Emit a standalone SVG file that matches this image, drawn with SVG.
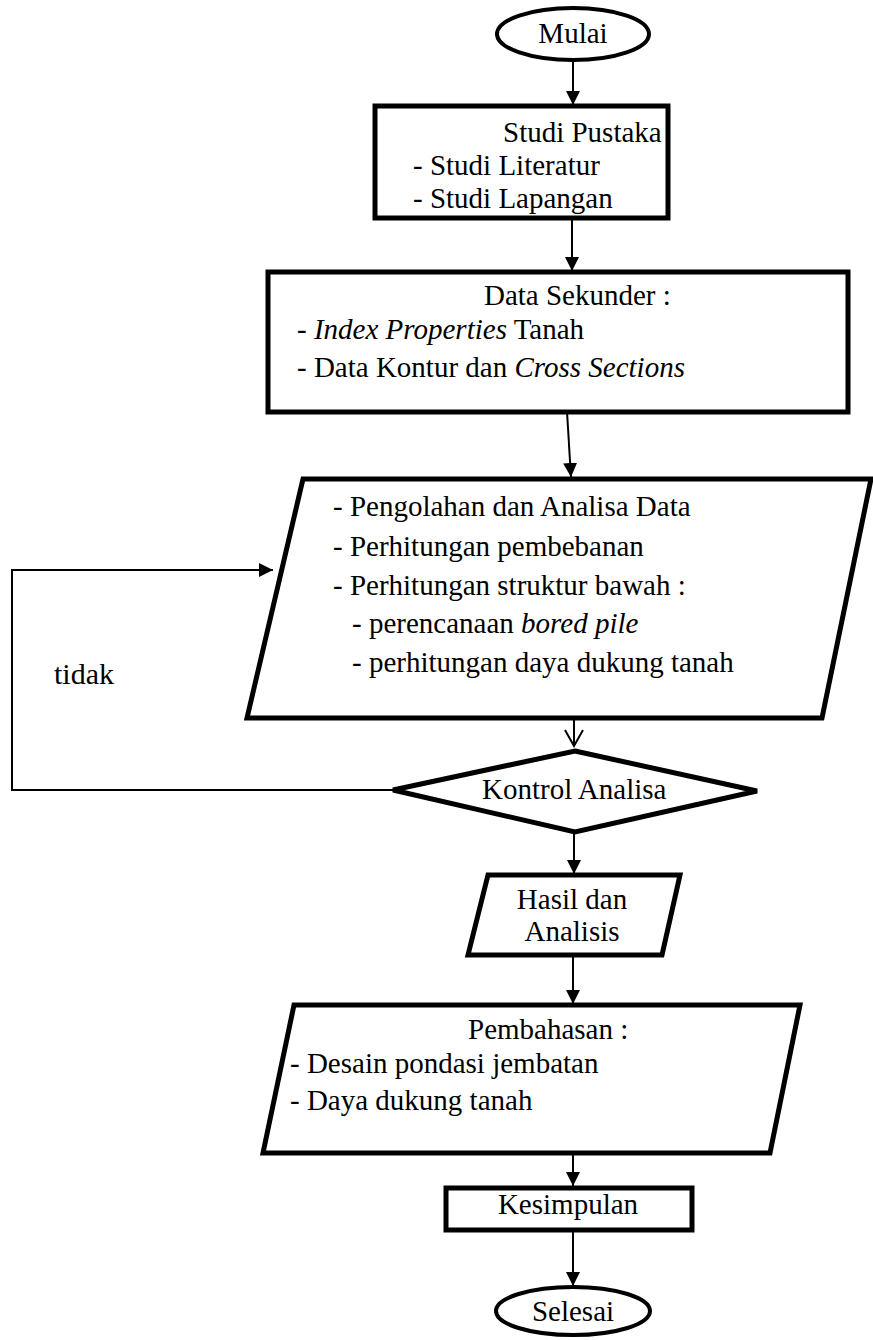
<svg xmlns="http://www.w3.org/2000/svg" width="873" height="1340" viewBox="0 0 873 1340">
<style>
.shape{fill:#fff;stroke:#000;stroke-width:5;stroke-linejoin:miter}
.thin{stroke-width:4}
.con{fill:none;stroke:#000;stroke-width:2}
.c{text-anchor:middle}
</style>
<defs>
<marker id="ah" markerUnits="userSpaceOnUse" markerWidth="16" markerHeight="16" viewBox="0 0 16 16" refX="14" refY="8" orient="auto">
<path d="M0,1 L14,8 L0,15 Z" fill="#000"/>
</marker>
<marker id="av" markerUnits="userSpaceOnUse" markerWidth="20" markerHeight="20" viewBox="0 0 20 20" refX="17" refY="10" orient="auto">
<path d="M1,1 L17,10 L1,19" fill="none" stroke="#000" stroke-width="2"/>
</marker>
</defs>
<rect width="873" height="1340" fill="#fff"/>
<g id="connectors">
<line class="con" x1="573" y1="60" x2="573" y2="105" marker-end="url(#ah)"/>
<line class="con" x1="572" y1="218" x2="572" y2="271" marker-end="url(#ah)"/>
<line class="con" x1="567" y1="412" x2="571" y2="477" marker-end="url(#ah)"/>
<line class="con" x1="574" y1="700" x2="574" y2="746" marker-end="url(#av)"/>
<polyline class="con" points="393,790 12,790 12,570 273,570" marker-end="url(#ah)"/>
<line class="con" x1="574" y1="832" x2="574" y2="874" marker-end="url(#ah)"/>
<line class="con" x1="573" y1="956" x2="573" y2="1004" marker-end="url(#ah)"/>
<line class="con" x1="573" y1="1153" x2="573" y2="1186" marker-end="url(#ah)"/>
<line class="con" x1="573" y1="1230" x2="573" y2="1286" marker-end="url(#ah)"/>
</g>
<g font-family="'Liberation Serif', 'DejaVu Serif', serif" font-size="29" fill="#000">
<g id="mulai">
<ellipse class="shape thin" cx="573" cy="34" rx="76" ry="26"/>
<text class="c" x="573" y="43">Mulai</text>
</g>
<g id="studi-pustaka">
<rect class="shape" x="375" y="106" width="293" height="112"/>
<text x="503" y="142">Studi Pustaka</text>
<text x="413" y="175">- Studi Literatur</text>
<text x="413" y="208">- Studi Lapangan</text>
</g>
<g id="data-sekunder">
<rect class="shape" x="268" y="272" width="580" height="140"/>
<text x="484" y="305">Data Sekunder :</text>
<text x="297" y="339">- <tspan font-style="italic">Index Properties</tspan> Tanah</text>
<text x="297" y="377">- Data Kontur dan <tspan font-style="italic">Cross Sections</tspan></text>
</g>
<g id="pengolahan">
<polygon class="shape" points="303,479 871,479 822,718 247,718"/>
<text x="333" y="516">- Pengolahan dan Analisa Data</text>
<text x="333" y="556">- Perhitungan pembebanan</text>
<text x="333" y="595">- Perhitungan struktur bawah :</text>
<text x="352" y="633">- perencanaan <tspan font-style="italic">bored pile</tspan></text>
<text x="352" y="672">- perhitungan daya dukung tanah</text>
</g>
<g id="kontrol">
<polygon class="shape" points="575,751 757,791 575,832 393,790"/>
<text x="482" y="799">Kontrol Analisa</text>
</g>
<g id="tidak-label">
<text x="54" y="684" font-size="30">tidak</text>
</g>
<g id="hasil">
<polygon class="shape" points="488,875 680,875 662,955 468,955"/>
<text class="c" x="572" y="909">Hasil dan</text>
<text class="c" x="572" y="941">Analisis</text>
</g>
<g id="pembahasan">
<polygon class="shape" points="294,1005 800,1005 770,1153 263,1153"/>
<text x="468" y="1039">Pembahasan :</text>
<text x="290" y="1073">- Desain pondasi jembatan</text>
<text x="290" y="1110">- Daya dukung tanah</text>
</g>
<g id="kesimpulan">
<rect class="shape" x="446" y="1188" width="246" height="42"/>
<text class="c" x="568" y="1214">Kesimpulan</text>
</g>
<g id="selesai">
<ellipse class="shape thin" cx="573" cy="1311" rx="77" ry="24"/>
<text class="c" x="573" y="1321">Selesai</text>
</g>
</g>
</svg>
